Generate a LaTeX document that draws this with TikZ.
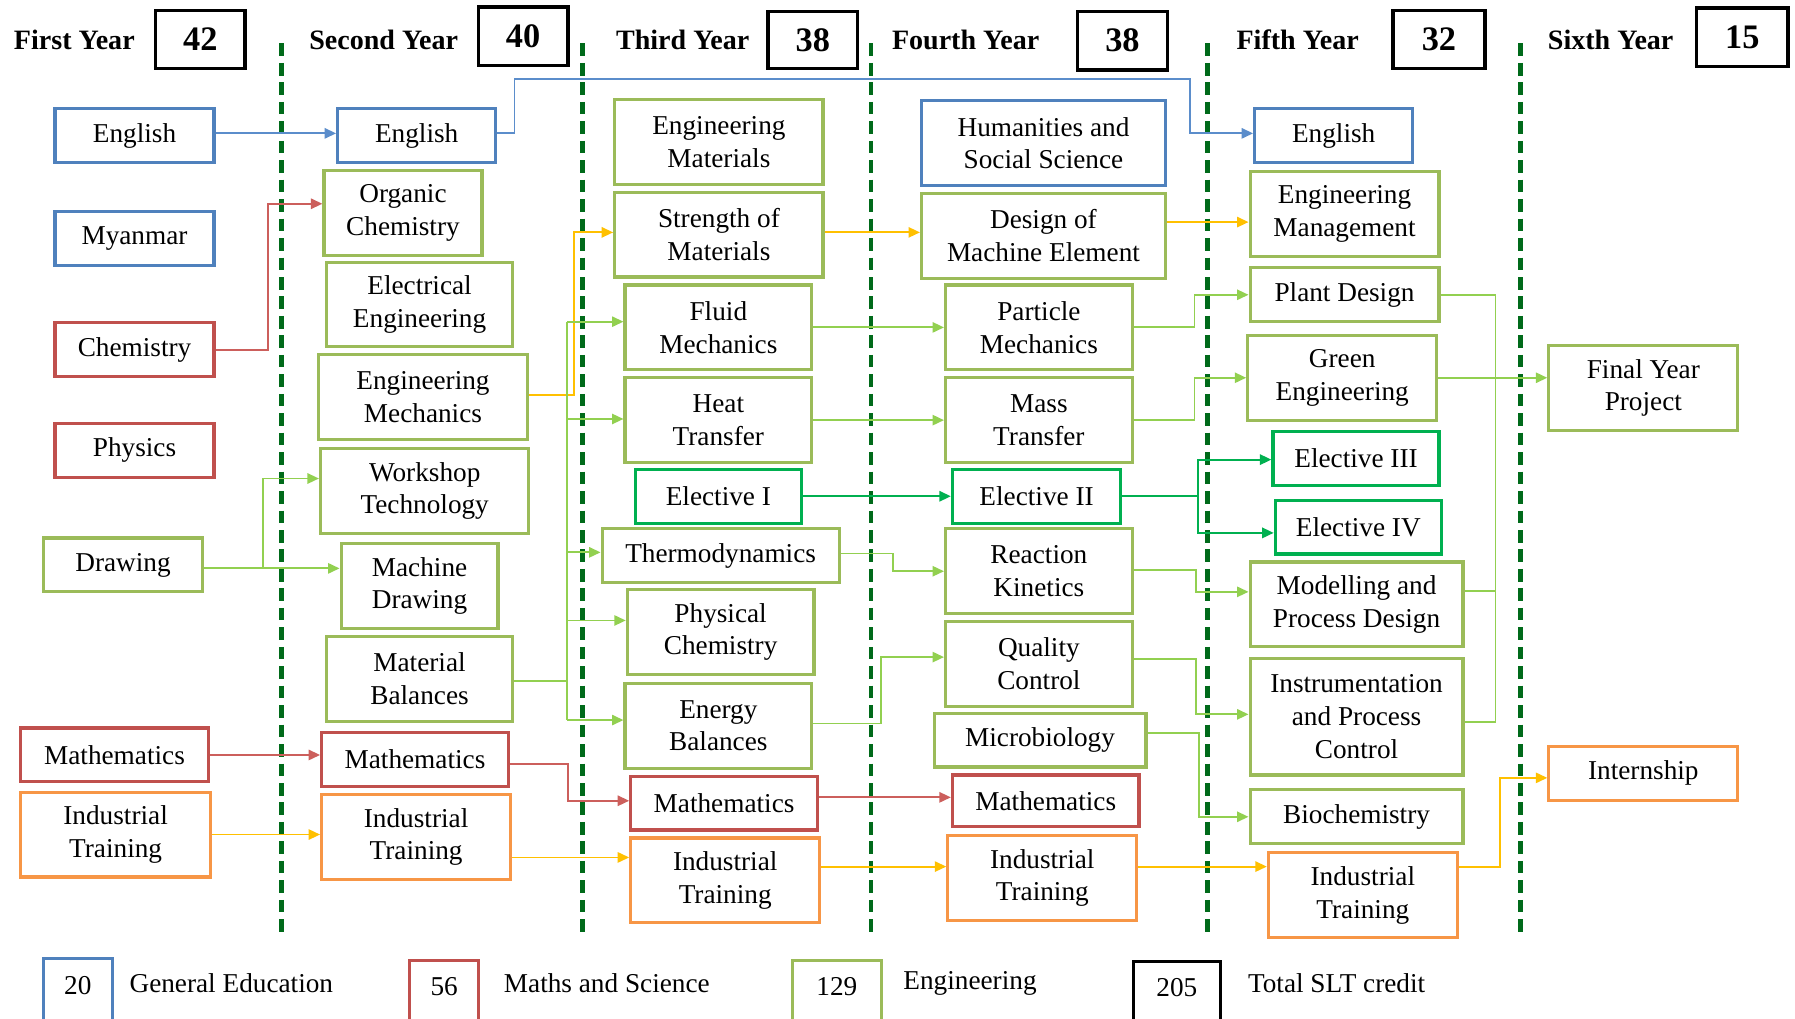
\documentclass[tikz,border=0pt]{standalone}
\usepackage{fontspec}
\setmainfont{Liberation Serif}
\usetikzlibrary{arrows.meta,calc}
\definecolor{cblue}{HTML}{4F81BD}
\definecolor{lblue}{HTML}{5B8DCB}
\definecolor{cred}{HTML}{C0504D}
\definecolor{lred}{HTML}{CC5F5C}
\definecolor{cgreen}{HTML}{9BBB59}
\definecolor{lgreen}{HTML}{92D050}
\definecolor{celec}{HTML}{00B050}
\definecolor{corange}{HTML}{F79646}
\definecolor{cyellow}{HTML}{FFC000}
\definecolor{dgreen}{HTML}{006A1A}
\newcommand{\mkbox}[7]{\node[#1,minimum width={#4-#3},minimum height={#6-#5}] (#2) at ({(#3+#4)/2},{(#5+#6)/2}) {#7};}
\tikzset{
  cbox/.style={draw,line width=2.8pt,fill=white,align=center,inner sep=0pt,
    font=\fontsize{23.8}{28.5}\selectfont},
  bbox/.style={cbox,draw=cblue},
  rbox/.style={cbox,draw=cred},
  gbox/.style={cbox,draw=cgreen},
  ebox/.style={cbox,draw=celec},
  obox/.style={cbox,draw=corange},
  kbox/.style={draw=black,line width=3pt,fill=white,inner sep=0pt,
    font=\fontsize{30}{32}\selectfont\bfseries},
  lbox/.style={draw,line width=2.8pt,inner sep=0pt},
  yhead/.style={anchor=west,inner sep=0pt,font=\fontsize{24.5}{26}\selectfont\bfseries},
  ltext/.style={anchor=west,inner sep=0pt,font=\fontsize{23.8}{26}\selectfont},
  lnum/.style={inner sep=0pt,font=\fontsize{23.8}{26}\selectfont},
  tip/.style={-{Triangle[length=10pt,width=9pt]}},
  barr/.style={draw=lblue,line width=1.6pt,tip},
  rarr/.style={draw=lred,line width=1.6pt,tip},
  yarr/.style={draw=cyellow,line width=1.6pt,tip},
  garr/.style={draw=lgreen,line width=1.6pt,tip},
  gline/.style={draw=lgreen,line width=1.6pt},
  earr/.style={draw=celec,line width=1.8pt,tip},
  divider/.style={draw=dgreen,line width=4pt,dash pattern=on 11pt off 6pt},
}
\begin{document}
\begin{tikzpicture}[x=1pt,y=-1pt]
\path[use as bounding box] (0,0) rectangle (1568,890);
\clip (0,0) rectangle (1568,890);
\fill[white] (0,0) rectangle (1568,890);

% dividers
\foreach \xx/\nm in {246/d1,509/d2,761/d3,1055/d4,1328/d5}{
  \coordinate (\nm t) at (\xx,38);
  \coordinate (\nm b) at (\xx,818);
  \draw[divider] (\nm t) -- (\nm b);
}

% headers
\node[yhead] (h1) at (12,35) {First Year};
\mkbox{kbox}{n1}{136}{214}{9}{60}{42}
\node[yhead] (h2) at (270,35) {Second Year};
\mkbox{kbox}{n2}{418}{496}{6}{57}{40}
\node[yhead] (h3) at (538,35) {Third Year};
\mkbox{kbox}{n3}{671}{749}{10}{60}{38}
\node[yhead] (h4) at (779,35) {Fourth Year};
\mkbox{kbox}{n4}{941}{1020}{10}{61}{38}
\node[yhead] (h5) at (1080,35) {Fifth Year};
\mkbox{kbox}{n5}{1217}{1297}{9}{60}{32}
\node[yhead] (h6) at (1352,35) {Sixth Year};
\mkbox{kbox}{n6}{1482}{1562}{7}{58}{15}

% column 1
\mkbox{bbox}{e1}{48}{187}{95}{142}{English}
\mkbox{bbox}{my1}{48}{187}{185}{232}{Myanmar}
\mkbox{rbox}{ch1}{48}{187}{282}{329}{Chemistry}
\mkbox{rbox}{ph1}{48}{187}{370}{417}{Physics}
\mkbox{gbox}{dr1}{38}{177}{470}{517}{Drawing}
\mkbox{rbox}{ma1}{18}{182}{636}{683}{Mathematics}
\mkbox{obox}{it1}{18}{184}{692}{766}{Industrial\\Training}

% column 2
\mkbox{bbox}{e2}{295}{433}{95}{142}{English}
\mkbox{gbox}{oc2}{283}{421}{149}{223}{Organic\\Chemistry}
\mkbox{gbox}{ee2}{285}{448}{229}{303}{Electrical\\Engineering}
\mkbox{gbox}{em2}{278}{461}{310}{384}{Engineering\\Mechanics}
\mkbox{gbox}{wt2}{280}{462}{392}{466}{Workshop\\Technology}
\mkbox{gbox}{md2}{298}{435}{475}{549}{Machine\\Drawing}
\mkbox{gbox}{mb2}{285}{448}{556}{630}{Material\\Balances}
\mkbox{rbox}{ma2}{281}{444}{640}{687}{Mathematics}
\mkbox{obox}{it2}{281}{446}{694}{768}{Industrial\\Training}

% column 3
\mkbox{gbox}{emt3}{537}{719}{87}{161}{Engineering\\Materials}
\mkbox{gbox}{som3}{537}{719}{168}{242}{Strength of\\Materials}
\mkbox{gbox}{fm3}{546}{709}{249}{323}{Fluid\\Mechanics}
\mkbox{gbox}{ht3}{546}{709}{330}{404}{Heat\\Transfer}
\mkbox{ebox}{el1}{555}{700}{410}{457}{Elective I}
\mkbox{gbox}{td3}{526}{733}{462}{509}{Thermodynamics}
\mkbox{gbox}{pc3}{548}{711}{515}{589}{Physical\\Chemistry}
\mkbox{gbox}{eb3}{546}{709}{597}{671}{Energy\\Balances}
\mkbox{rbox}{ma3}{551}{714}{678}{725}{Mathematics}
\mkbox{obox}{it3}{551}{716}{732}{806}{Industrial\\Training}

% column 4
\mkbox{bbox}{hss4}{805}{1018}{88}{162}{Humanities and\\Social Science}
\mkbox{gbox}{dme4}{805}{1018}{169}{243}{Design of\\Machine Element}
\mkbox{gbox}{pm4}{826}{989}{249}{323}{Particle\\Mechanics}
\mkbox{gbox}{mt4}{826}{989}{330}{404}{Mass\\Transfer}
\mkbox{ebox}{el2}{832}{979}{410}{457}{Elective II}
\mkbox{gbox}{rk4}{826}{989}{462}{536}{Reaction\\Kinetics}
\mkbox{gbox}{qc4}{826}{989}{543}{617}{Quality\\Control}
\mkbox{gbox}{mb4}{816}{1001}{623}{670}{Microbiology}
\mkbox{rbox}{ma4}{832}{995}{677}{722}{Mathematics}
\mkbox{obox}{it4}{828}{993}{730}{804}{Industrial\\Training}

% column 5
\mkbox{bbox}{e5}{1096}{1234}{95}{142}{English}
\mkbox{gbox}{emg5}{1092}{1257}{150}{224}{Engineering\\Management}
\mkbox{gbox}{pd5}{1092}{1257}{234}{281}{Plant Design}
\mkbox{gbox}{ge5}{1090}{1255}{293}{367}{Green\\Engineering}
\mkbox{ebox}{el3}{1112}{1257}{377}{424}{Elective III}
\mkbox{ebox}{el4}{1114}{1259}{437}{484}{Elective IV}
\mkbox{gbox}{mpd5}{1092}{1278}{491}{565}{Modelling and\\Process Design}
\mkbox{gbox}{ipc5}{1092}{1278}{575}{677}{Instrumentation\\and Process\\Control}
\mkbox{gbox}{bio5}{1092}{1278}{690}{737}{Biochemistry}
\mkbox{obox}{it5}{1108}{1273}{745}{819}{Industrial\\Training}

% column 6
\mkbox{gbox}{fyp6}{1353}{1518}{302}{376}{Final Year\\Project}
\mkbox{obox}{int6}{1353}{1518}{652}{699}{Internship}

% ---- connectors ----
% blue
\draw[barr] ([yshift=2pt]e1.east) -- ([yshift=2pt]e1.east -| e2.west);
\draw[barr] ([yshift=2pt]e2.east) -- ++(15,0) -- ++(0,-47.5) -| ([xshift=-55pt,yshift=2pt]e5.west) -- ([yshift=2pt]e5.west);
% red
\draw[rarr] (ch1.east) -- ++(46,0) |- ([yshift=8pt]oc2.west);
\draw[rarr] (ma1.east) -- (ma1.east -| ma2.west);
\draw[rarr] ([yshift=-4pt]ma2.east) -- ++(51,0) |- ([yshift=2pt]ma3.west);
\draw[rarr] ([yshift=5pt]ma3.east) -- ([yshift=5pt]ma3.east -| ma4.west);
% yellow
\draw[yarr] (it1.east) -- (it1.east -| it2.west);
\draw[yarr] ([yshift=2pt]em2.east) -- ++(39,0) |- ([yshift=2pt]som3.west);
\draw[yarr] ([yshift=-18pt]it2.east) -- ([yshift=-18pt]it2.east -| it3.west);
\draw[yarr] ([yshift=2pt]som3.east) -- ([yshift=2pt]som3.east -| dme4.west);
\draw[yarr] ([yshift=12pt]dme4.east) -- ([yshift=12pt]dme4.east -| emg5.west);
\draw[yarr] ([yshift=12pt]it3.east) -- ([yshift=12pt]it3.east -| it4.west);
\draw[yarr] ([yshift=10pt]it4.east) -- ([yshift=10pt]it4.east -| it5.west);
\draw[yarr] ([yshift=25pt]it5.east) -- ++(36,0) |- ([yshift=-4pt]int6.west);
% green, year 1 -> 2
\draw[garr] ([yshift=-3pt]dr1.east) -- ([yshift=-3pt]dr1.east -| md2.west);
\draw[garr] ([yshift=-3pt]dr1.east) -- ++(51,0) |- ([yshift=11pt]wt2.west);
% green, year 2 -> 3 (bus)
\draw[gline] ([yshift=-2pt]mb2.east) -- ++(46,0) coordinate (busA);
\draw[gline] ([yshift=5pt]busA |- fm3.west) -- ([yshift=5pt]busA |- eb3.west);
\draw[garr] ([yshift=5pt]busA |- fm3.west) -- ([yshift=5pt]fm3.west);
\draw[garr] ([yshift=1pt]busA |- ht3.west) -- ([yshift=1pt]ht3.west);
\draw[garr] ([yshift=3pt]busA |- td3.west) -- ([yshift=3pt]td3.west);
\draw[garr] ([yshift=10pt]busA |- pc3.west) -- ([yshift=10pt]pc3.west);
\draw[garr] ([yshift=5pt]busA |- eb3.west) -- ([yshift=5pt]eb3.west);
% green, year 3 -> 4
\draw[garr] (fm3.east) -- (fm3.east -| pm4.west);
\draw[garr] (ht3.east) -- (ht3.east -| mt4.west);
\draw[earr] (el1.east) -- (el1.east -| el2.west);
\draw[garr] ([yshift=2pt]td3.east) -- ++(46,0) |- (rk4.west);
\draw[garr] ([yshift=2pt]eb3.east) -- ++(59,0) |- ([yshift=6pt]qc4.west);
% green, year 4 -> 5
\draw[garr] (pm4.east) -- ++(53,0) |- (pd5.west);
\draw[garr] (mt4.east) -- ++(53,0) |- (ge5.west);
\draw[earr] (el2.east) -- ++(66,0) |- ([yshift=-1pt]el3.west);
\draw[earr] (el2.east) -- ++(66,0) |- ([yshift=-5pt]el4.west);
\draw[garr] ([yshift=1pt]rk4.east) -- ++(54,0) |- ([yshift=11pt]mpd5.west);
\draw[garr] ([yshift=4pt]qc4.east) -- ++(54,0) |- ([yshift=2pt]ipc5.west);
\draw[garr] ([yshift=6pt]mb4.east) -- ++(45,0) |- (bio5.west);
% green, year 5 -> 6
\draw[gline] (pd5.east) -- ++(48,0) coordinate (busC) |- ([yshift=-5pt]ipc5.east);
\draw[gline] ([yshift=12pt]mpd5.east) -| (busC);
\draw[garr] (ge5.east) -- (ge5.east -| fyp6.west);

% legend
\mkbox{lbox,draw=cblue}{lg1}{38}{98}{837}{905}{}
\node[lnum] (lgn1) at (68,861) {20};
\node[ltext] (lgt1) at (113,859) {General Education};
\mkbox{lbox,draw=cred}{lg2}{358}{418}{839}{905}{}
\node[lnum] (lgn2) at (388,862) {56};
\node[ltext] (lgt2) at (440,859) {Maths and Science};
\mkbox{lbox,draw=cgreen}{lg3}{692}{770}{839}{905}{}
\node[lnum] (lgn3) at (731,862) {129};
\node[ltext] (lgt3) at (789,859) {Engineering};
\mkbox{lbox,draw=black}{lg4}{990}{1066}{840}{905}{}
\node[lnum] (lgn4) at (1028,863) {205};
\node[ltext] (lgt4) at (1090,859) {Total SLT credit};
\end{tikzpicture}
\end{document}
